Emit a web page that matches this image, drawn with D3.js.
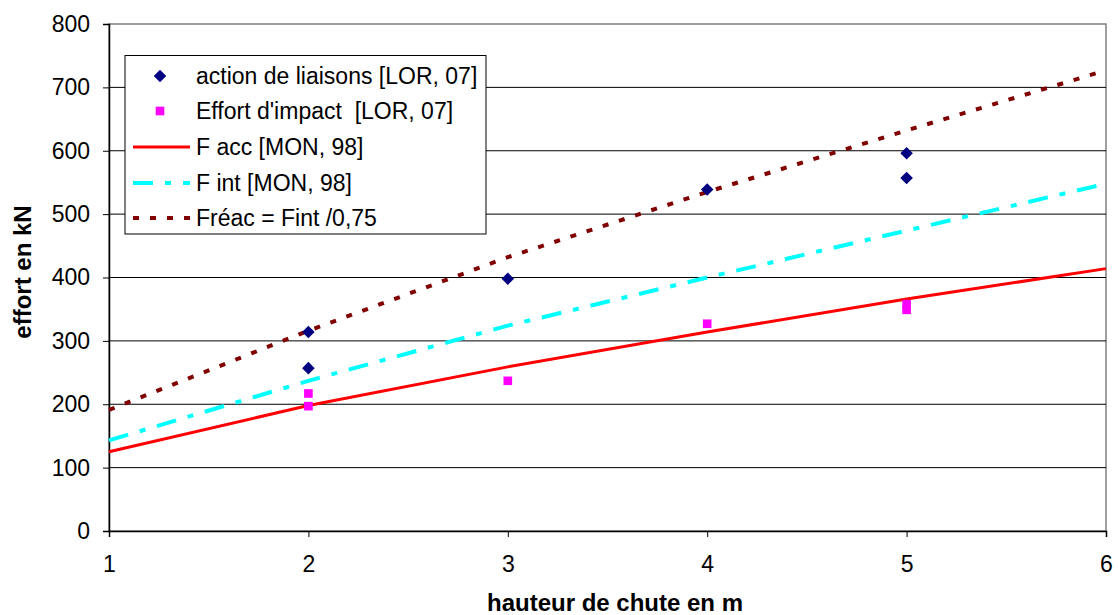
<!DOCTYPE html>
<html><head><meta charset="utf-8">
<script src="https://cdn.jsdelivr.net/npm/d3@7"></script>
<style>
body{margin:0;background:#fff;}
svg{display:block;font-family:"Liberation Sans",Arial,sans-serif;}
</style></head>
<body><svg id="chart" width="1118" height="615"></svg>
<script>
// ---- data ----
const xTicks = [1, 2, 3, 4, 5, 6];
const yTicks = [0, 100, 200, 300, 400, 500, 600, 700, 800];
const liaisonsX = [2, 2, 3, 4, 5, 5];
const liaisonsY = [314, 257, 398, 539, 596, 557];
const impactX = [2, 2, 3, 4, 5, 5];
const impactY = [217, 197, 237, 327, 358, 349];
const lineX = [1, 2, 3, 4, 5, 6];
const faccY = [125, 198, 259, 314, 366, 414];
const fintY = [143, 237, 324, 400, 474, 548];
const freacY = [191, 316, 432, 535, 632, 727];
const legendLabels = ["action de liaisons [LOR, 07]", "Effort d'impact  [LOR, 07]", "F acc [MON, 98]", "F int [MON, 98]", "Fréac = Fint /0,75"];
const xTitle = "hauteur de chute en m";
const yTitle = "effort en kN";

const W = 1118, H = 615;
const m = {left: 109, right: 12, top: 24, bottom: 84};
const FONT = '"Liberation Sans",Arial,sans-serif';
const svg = d3.select("#chart");
const x = d3.scaleLinear().domain([1, 6]).range([m.left, W - m.right]);
const y = d3.scaleLinear().domain([0, 800]).range([H - m.bottom, m.top]);

// plot border (top/right grey)
svg.append("rect").attr("x", x(1)).attr("y", y(800)).attr("width", x(6) - x(1)).attr("height", y(0) - y(800))
  .attr("fill", "none").attr("stroke", "#808080").attr("stroke-width", 1.5);

// gridlines
svg.append("g").selectAll("line").data(yTicks.filter(d => d > 0 && d < 800)).join("line")
  .attr("x1", x(1)).attr("x2", x(6)).attr("y1", d => y(d)).attr("y2", d => y(d))
  .attr("stroke", "#000").attr("stroke-width", 1);

// axes
const yAxis = svg.append("g").attr("transform", `translate(${x(1)},0)`)
  .call(d3.axisLeft(y).tickValues(yTicks).tickFormat(d3.format("d")).tickSize(6).tickPadding(13));
const xAxis = svg.append("g").attr("transform", `translate(0,${y(0)})`)
  .call(d3.axisBottom(x).tickValues(xTicks).tickFormat(d3.format("d")).tickSize(6).tickPadding(19));
[yAxis, xAxis].forEach(a => {
  a.attr("font-size", null).attr("font-family", null);
  a.select(".domain").attr("stroke", "#000").attr("stroke-width", 1.5);
  a.selectAll(".tick line").attr("stroke", "#000");
  a.selectAll(".tick text").attr("fill", "#000").style("font-size", "23px").style("font-family", FONT);
});

// lines
const lineGen = (ys) => d3.line().x((d, i) => x(lineX[i])).y(d => y(d))(ys);
svg.append("path").attr("d", lineGen(faccY)).attr("fill", "none").attr("stroke", "#FF0000").attr("stroke-width", 3);
svg.append("path").attr("d", lineGen(fintY)).attr("fill", "none").attr("stroke", "#00FFFF").attr("stroke-width", 4)
  .attr("stroke-dasharray", "20,12,6,12");
svg.append("path").attr("d", lineGen(freacY)).attr("fill", "none").attr("stroke", "#800000").attr("stroke-width", 4)
  .attr("stroke-dasharray", "6,11");

// markers
const diamond = d3.symbol().type(d3.symbolDiamond2).size(100);
const square = d3.symbol().type(d3.symbolSquare2).size(95);
svg.append("g").selectAll("path").data(liaisonsY).join("path")
  .attr("d", diamond).attr("transform", (d, i) => `translate(${x(liaisonsX[i])},${y(d)}) `)
  .attr("fill", "#000080");
svg.append("g").selectAll("path").data(impactY).join("path")
  .attr("d", square).attr("transform", (d, i) => `translate(${x(impactX[i])},${y(d)})`)
  .attr("fill", "#FF00FF");

// axis titles
svg.append("text").attr("x", 615).attr("y", 611).attr("text-anchor", "middle")
  .style("font-weight", "bold").style("font-size", "24px").text(xTitle);
svg.append("text").attr("transform", `translate(31,${272}) rotate(-90)`).attr("text-anchor", "middle")
  .style("font-weight", "bold").style("font-size", "24px").text(yTitle);

// legend
const lg = svg.append("g");
lg.append("rect").attr("x", 125).attr("y", 55.5).attr("width", 361).attr("height", 178.5)
  .attr("fill", "#fff").attr("stroke", "#000").attr("stroke-width", 1);
const rowY = [76, 111, 147, 183, 218];
const items = lg.selectAll("g").data(legendLabels).join("g").attr("transform", (d, i) => `translate(0,${rowY[i]})`);
items.append("text").attr("x", 196).attr("y", 0).attr("dy", "0.36em").style("font-size", "23px")
  .style("white-space", "pre").attr("xml:space", "preserve").text(d => d);
items.filter((d, i) => i === 0).append("path").attr("d", diamond).attr("transform", "translate(160,0)").attr("fill", "#000080");
items.filter((d, i) => i === 1).append("path").attr("d", square).attr("transform", "translate(160,0)").attr("fill", "#FF00FF");
const legStyles = [null, null, ["#FF0000", 3, null], ["#00FFFF", 4, "20,12,6,12"], ["#800000", 4, "6,11"]];
items.filter((d, i) => i >= 2).append("line").attr("x1", 133).attr("x2", 190).attr("y1", 0).attr("y2", 0)
  .each(function(d, i) {
    const s = legStyles[i + 2];
    d3.select(this).attr("stroke", s[0]).attr("stroke-width", s[1]).attr("stroke-dasharray", s[2]);
  });
</script></body></html>
